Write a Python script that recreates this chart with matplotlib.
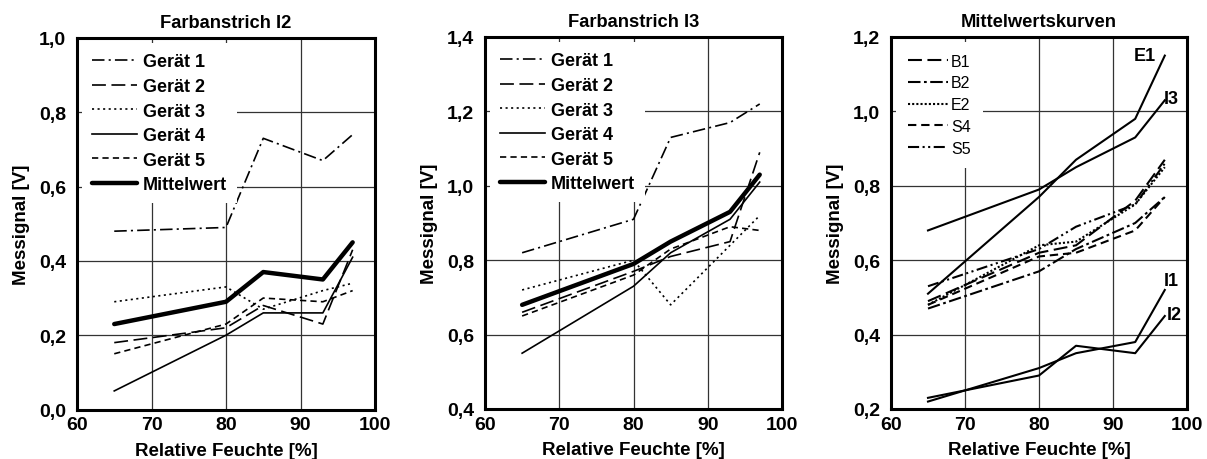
import matplotlib
matplotlib.use("Agg")
import matplotlib.pyplot as plt
from matplotlib.ticker import FuncFormatter, MultipleLocator

plt.rcParams['font.family'] = ['Liberation Sans', 'DejaVu Sans']
plt.rcParams['lines.scale_dashes'] = False

x = [65, 80, 85, 93, 97]

# Panel 1: Farbanstrich I2
i2_g1 = [0.48, 0.49, 0.73, 0.67, 0.74]
i2_g2 = [0.18, 0.22, 0.28, 0.23, 0.43]
i2_g3 = [0.29, 0.33, 0.27, 0.32, 0.34]
i2_g4 = [0.05, 0.20, 0.26, 0.26, 0.41]
i2_g5 = [0.15, 0.23, 0.30, 0.29, 0.32]
i2_mw = [0.23, 0.29, 0.37, 0.35, 0.45]

# Panel 2: Farbanstrich I3
i3_g1 = [0.82, 0.91, 1.13, 1.17, 1.22]
i3_g2 = [0.66, 0.77, 0.81, 0.85, 1.09]
i3_g3 = [0.72, 0.80, 0.68, 0.84, 0.92]
i3_g4 = [0.55, 0.73, 0.82, 0.91, 1.01]
i3_g5 = [0.65, 0.76, 0.83, 0.89, 0.88]
i3_mw = [0.68, 0.79, 0.85, 0.93, 1.03]

# Panel 3: Mittelwertskurven
mk_b1 = [0.49, 0.62, 0.64, 0.76, 0.87]
mk_b2 = [0.47, 0.57, 0.63, 0.70, 0.77]
mk_e2 = [0.48, 0.64, 0.65, 0.75, 0.85]
mk_s4 = [0.48, 0.61, 0.62, 0.68, 0.77]
mk_s5 = [0.53, 0.63, 0.69, 0.75, 0.86]
mk_e1 = [0.51, 0.77, 0.87, 0.98, 1.15]
mk_i3 = [0.68, 0.79, 0.85, 0.93, 1.03]
mk_i1 = [0.22, 0.31, 0.35, 0.38, 0.52]
mk_i2 = [0.23, 0.29, 0.37, 0.35, 0.45]

geraet_labels = ['Gerät 1', 'Gerät 2', 'Gerät 3', 'Gerät 4', 'Gerät 5', 'Mittelwert']
mk_labels = ['B1', 'B2', 'E2', 'S4', 'S5']
titles = ['Farbanstrich I2', 'Farbanstrich I3', 'Mittelwertskurven']
ylims = [(0.0, 1.0), (0.4, 1.4), (0.2, 1.2)]

DASHDOT = (0, (9, 3, 1.5, 3))
LONGDASH = (0, (10, 4))
DOTTED = (0, (1.5, 2.5))
SHORTDASH = (0, (4.5, 3))
DASHDOTDOT = (0, (8, 2.5, 1.5, 2.5, 1.5, 2.5))

W, H = 1207, 460
fig = plt.figure(figsize=(W / 100, H / 100), dpi=100)

def px_axes(l, r, t, b):
    return fig.add_axes([l / W, 1 - b / H, (r - l) / W, (b - t) / H])

axes = [px_axes(77, 375, 39, 410.5),
        px_axes(485, 782, 38, 410),
        px_axes(891, 1187, 38, 410)]

fmt = FuncFormatter(lambda v, p: f"{v:.1f}".replace('.', ','))

for ax, title, yl in zip(axes, titles, ylims):
    ax.set_xlim(60, 100)
    ax.set_ylim(*yl)
    ax.xaxis.set_major_locator(MultipleLocator(10))
    ax.yaxis.set_major_locator(MultipleLocator(0.2))
    ax.yaxis.set_major_formatter(fmt)
    ax.grid(True, color='#333333', linewidth=0.9, zorder=0)
    ax.set_axisbelow(True)
    for s in ax.spines.values():
        s.set_linewidth(2.2)
        s.set_color('black')
        s.set_zorder(10)
    ax.tick_params(length=0, labelsize=14, pad=8)
    ax.tick_params(axis='x', pad=5)
    for lab in ax.get_xticklabels() + ax.get_yticklabels():
        lab.set_fontweight('bold')
    ax.set_title(title, fontsize=13.2, fontweight='bold', pad=8)
    ax.set_xlabel('Relative Feuchte [%]', fontsize=13.5, fontweight='bold', labelpad=6)
    ax.set_ylabel('Messignal [V]', fontsize=13.5, fontweight='bold', labelpad=6)

thin = 1.2
for ax, data in zip(axes[:2], [(i2_g1, i2_g2, i2_g3, i2_g4, i2_g5, i2_mw),
                               (i3_g1, i3_g2, i3_g3, i3_g4, i3_g5, i3_mw)]):
    g1, g2, g3, g4, g5, mw = data
    ax.plot(x, g1, color='black', lw=thin, linestyle=DASHDOT, label=geraet_labels[0])
    ax.plot(x, g2, color='black', lw=thin, linestyle=LONGDASH, label=geraet_labels[1])
    ax.plot(x, g3, color='black', lw=thin, linestyle=DOTTED, label=geraet_labels[2])
    ax.plot(x, g4, color='black', lw=thin, linestyle='-', label=geraet_labels[3])
    ax.plot(x, g5, color='black', lw=thin, linestyle=SHORTDASH, label=geraet_labels[4])
    ax.plot(x, mw, color='black', lw=3.2, linestyle='-', solid_capstyle='round',
            label=geraet_labels[5])
    leg = ax.legend(loc='upper left', bbox_to_anchor=(0.0, 1.0),
                    prop={'weight': 'bold', 'size': 13}, frameon=True,
                    fancybox=False, edgecolor='none', facecolor='white', framealpha=1,
                    handlelength=2.5, handletextpad=0.3, labelspacing=0.42,
                    borderaxespad=0.3, borderpad=0.55)
    leg.set_zorder(5)

ax = axes[2]
lw3 = 1.5
ax.plot(x, mk_b1, color='black', lw=lw3, linestyle=(0, (10, 4)), label=mk_labels[0])
ax.plot(x, mk_b2, color='black', lw=lw3, linestyle=(0, (9, 2.5, 2, 2.5)), label=mk_labels[1])
ax.plot(x, mk_e2, color='black', lw=lw3, linestyle=(0, (1.5, 1.5)), label=mk_labels[2])
ax.plot(x, mk_s4, color='black', lw=lw3, linestyle=(0, (6, 3.5)), label=mk_labels[3])
ax.plot(x, mk_s5, color='black', lw=lw3, linestyle=DASHDOTDOT, label=mk_labels[4])
for ys in (mk_e1, mk_i3, mk_i1, mk_i2):
    ax.plot(x, ys, color='black', lw=lw3, linestyle='-')
leg = ax.legend(loc='upper left', bbox_to_anchor=(0.0, 1.0), fontsize=11.5,
                frameon=True, fancybox=False, edgecolor='none', facecolor='white',
                framealpha=1, handlelength=2.5, handletextpad=0.2, labelspacing=0.42,
                borderaxespad=0.3, borderpad=0.75)
leg.set_zorder(5)
for txt, tx, ty in [('E1', 94.3, 1.15), ('I3', 97.9, 1.035), ('I1', 97.9, 0.545), ('I2', 98.3, 0.455)]:
    ax.text(tx, ty, txt, fontsize=13, fontweight='bold', ha='center', va='center')

fig.savefig('out.png', dpi=100)
